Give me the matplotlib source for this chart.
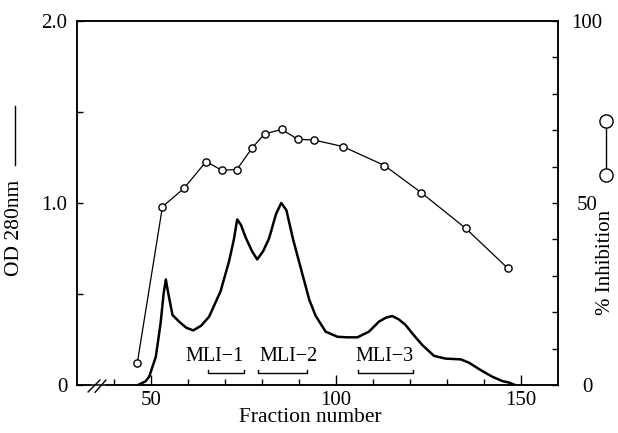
import matplotlib
matplotlib.use('Agg')
import matplotlib.pyplot as plt
from matplotlib.lines import Line2D
from matplotlib.ticker import FixedLocator

plt.rcParams['font.family'] = ['Liberation Serif', 'DejaVu Serif']

# OD 280nm elution profile
od_fraction = [46.5, 48.5, 49.5, 51.3, 52.6, 53.4, 54.0, 54.7, 55.8, 57.6, 59.5, 61.4, 63.5, 65.7,
               68.8, 71.1, 72.4, 73.3, 74.3, 75.6, 77.3, 78.7, 80.3, 81.9, 83.8, 85.2, 86.6,
               88.4, 91.1, 92.8, 94.5, 97.2, 100.4, 103.0, 105.8, 108.9, 111.6, 113.5, 115.2,
               117.0, 118.8, 120.6, 123.3, 126.5, 129.6, 133.7, 135.9, 139.1, 142.2, 144.9,
               146.8, 148.4]
od_value = [0.0, 0.02, 0.045, 0.155, 0.34, 0.50, 0.58, 0.50, 0.385, 0.348, 0.315, 0.30, 0.325,
            0.375, 0.515, 0.68, 0.80, 0.91, 0.88, 0.81, 0.735, 0.69, 0.735, 0.805, 0.94, 1.0,
            0.96, 0.80, 0.595, 0.467, 0.38, 0.293, 0.265, 0.262, 0.262, 0.293, 0.348, 0.37,
            0.379, 0.36, 0.33, 0.284, 0.22, 0.16, 0.145, 0.141, 0.123, 0.082, 0.046, 0.022,
            0.013, 0.0]

# % inhibition
inh_fraction = [46.3, 53.1, 58.9, 64.9, 69.1, 73.2, 77.4, 80.7, 85.3, 89.7, 94.1, 101.9,
                113.1, 123.1, 135.1, 146.4]
inh_value = [6.1, 49, 54, 61.4, 59, 59.2, 65.2, 69, 70.2, 67.5, 67.3, 65.5, 60.3, 52.8, 43, 32.1]

# pooled fractions
pool_names = ['MLI\u22121', 'MLI\u22122', 'MLI\u22123']
pool_start = [65.5, 79.0, 106.0]
pool_end = [75.1, 92.2, 120.8]
pool_text_x = [67.2, 87.2, 113.0]

fig = plt.figure(figsize=(6.18, 4.33), dpi=100)
ax = fig.add_axes([77/618, 1-385/433, (558-77)/618, (385-21)/433])
ax2 = ax.twinx()

ax.plot(od_fraction, od_value, color='black', lw=1.8, zorder=3)
ax2.plot(inh_fraction, inh_value, color='black', lw=0.9, marker='o', ms=5.2,
         mfc='white', mec='black', mew=1.0, zorder=4)

for name, a, b, tx in zip(pool_names, pool_start, pool_end, pool_text_x):
    ax.plot([a, a, b, b], [0.085, 0.068, 0.068, 0.085], color='black', lw=1.0)
    ax.text(tx, 0.158, name, ha='center', va='center', fontsize=14.5)

ax.set_xlim(30, 160)
ax.set_ylim(0, 2.0)
ax2.set_ylim(0, 100)

ax.xaxis.set_major_locator(FixedLocator([50, 100, 150]))
ax.xaxis.set_minor_locator(FixedLocator([40, 60, 70, 80, 90, 110, 120, 130, 140]))
ax.set_yticks([0, 0.5, 1.0, 1.5, 2.0])
ax.set_yticklabels(['0', '', '1.0', '', '2.0'])
ax2.set_yticks(list(range(0, 101, 10)))
ax2.set_yticklabels(['0', '', '', '', '', '50', '', '', '', '', '100'])

ax.tick_params(axis='x', which='major', direction='in', length=7, width=1.0, labelsize=15, pad=4)
ax.tick_params(axis='x', which='minor', direction='in', length=4, width=1.0)
ax.tick_params(axis='y', direction='in', length=4, width=1.0, labelsize=15, pad=7)
ax2.tick_params(axis='y', direction='in', length=4, width=1.0, labelsize=15, pad=21)
for lab in ax2.get_yticklabels():
    lab.set_horizontalalignment('center')

for a_ in (ax, ax2):
    for s in a_.spines.values():
        s.set_linewidth(1.1)

# x label placed in figure coordinates so it stays inside the canvas
fig.text(310/618, 1-418/433, 'Fraction number', ha='center', va='center', fontsize=15.5)

# axis break on the x axis
ax.plot([34.0, 37.0], [0.0, 0.0], color='white', lw=2.5, clip_on=False, zorder=5)
ax.plot([33.0, 36.2], [-0.038, 0.027], color='black', lw=1.0, clip_on=False, zorder=6)
ax.plot([34.9, 37.8], [-0.04, 0.027], color='black', lw=1.0, clip_on=False, zorder=6)

# left label with line symbol
fig.text(15/618, 1-228/433, 'OD 280nm', rotation=90, ha='center', va='center', fontsize=15.5)
fig.add_artist(Line2D([15/618, 15/618], [1-165/433, 1-106/433], color='black', lw=1.0))

# right label with circle-line-circle symbol
fig.text(606/618, 1-262/433, '% Inhibition', rotation=90, ha='center', va='center', fontsize=15)
fig.add_artist(Line2D([606/618, 606/618], [1-175/433, 1-121/433], color='black', lw=1.0,
                      marker='o', ms=9.5, mfc='white', mec='black', mew=1.0))

fig.savefig('out.png', dpi=100)
